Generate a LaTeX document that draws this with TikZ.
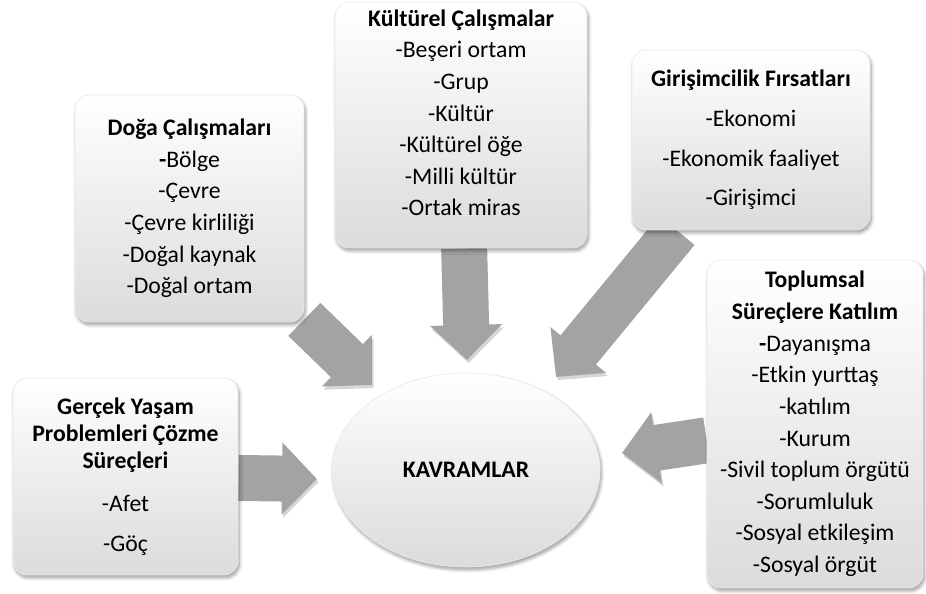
\documentclass[tikz,border=0pt]{standalone}
\usepackage{fontspec}
\setmainfont{Carlito}
\usetikzlibrary{shapes.geometric,arrows.meta,shadows.blur,backgrounds}

\tikzset{
  kutu/.style={rectangle, rounded corners=8pt, align=center,
    top color=white, bottom color=black!14, draw=black!8,
    blur shadow={shadow xshift=0.8pt, shadow yshift=-1.6pt, shadow blur steps=8, shadow opacity=40},
    inner sep=2pt, font=\fontsize{13.5}{18}\selectfont},
  ok/.style={line width=0.92cm, draw=black!36,
    -{Triangle[width=1.4cm,length=0.7cm]},
    preaction={draw=black!16, transform canvas={shift={(0.9pt,-1.8pt)}}}},
}

\begin{document}
\begin{tikzpicture}[x=0.02cm,y=-0.02cm]
  \useasboundingbox (0,0) rectangle (926,594);

  % kutular
  \node[kutu, minimum width=4.58cm, minimum height=4.54cm] (doga) at (189.5,208.5)
    {\textbf{Doğa Çalışmaları}\\\textbf{-}Bölge\\-Çevre\\-Çevre kirliliği\\-Doğal kaynak\\-Doğal ortam};
  \node[kutu, minimum width=5.04cm, minimum height=4.92cm, text depth=14pt] (kultur) at (461,125)
    {\textbf{Kültürel Çalışmalar}\\-Beşeri ortam\\-Grup\\-Kültür\\-Kültürel öğe\\-Milli kültür\\-Ortak miras};
  \node[kutu, minimum width=4.76cm, minimum height=3.6cm] (girisim) at (751,140)
    {\textbf{Girişimcilik Fırsatları}\\[4.6pt]-Ekonomi\\[4.6pt]-Ekonomik faaliyet\\[4.6pt]-Girişimci};
  \node[kutu, minimum width=4.5cm, minimum height=3.94cm,
    font=\fontsize{13.5}{15.5}\selectfont] (gercek) at (125.5,476.5)
    {\textbf{Gerçek Yaşam}\\\textbf{Problemleri Çözme}\\\textbf{Süreçleri}\\[9pt]-Afet\\[7.2pt]-Göç};
  \node[kutu, minimum width=4.32cm, minimum height=6.56cm] (toplum) at (815,424)
    {\textbf{Toplumsal}\\\textbf{Süreçlere Katılım}\\\textbf{-}Dayanışma\\-Etkin yurttaş\\-katılım\\-Kurum\\-Sivil toplum örgütü\\-Sorumluluk\\-Sosyal etkileşim\\-Sosyal örgüt};

  % merkez
  \node[kutu, ellipse, minimum width=5.36cm, minimum height=3.88cm] (kavram) at (466,470)
    {\textbf{KAVRAMLAR}};

  % ok uclari
  \coordinate (ucD) at (372,385);
  \coordinate (ucK) at (467,360);
  \coordinate (ucG) at (556,377);
  \coordinate (ucT) at (622,453);
  \coordinate (ucC) at (317,479);

  \begin{scope}[on background layer]
    \draw[ok] (doga) -- (ucD);
    \draw[ok] (kultur) -- (ucK);
    \draw[ok] (girisim) -- (ucG);
    \draw[ok] (toplum) -- (ucT);
    \draw[ok] (gercek) -- (ucC);
  \end{scope}
\end{tikzpicture}
\end{document}
